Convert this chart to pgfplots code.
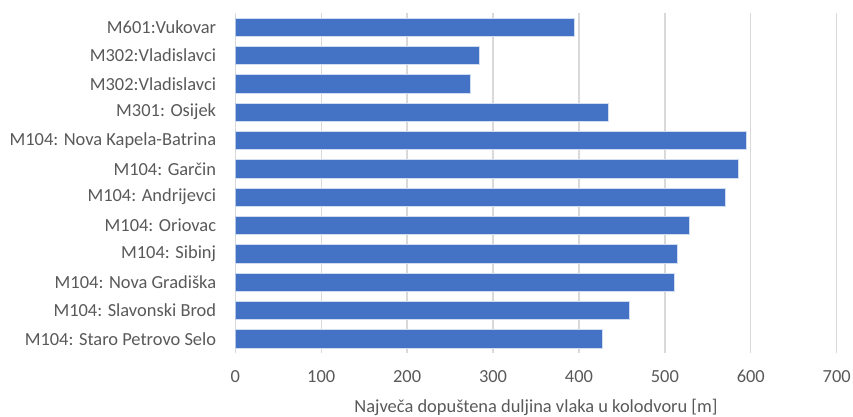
\documentclass[border=0pt]{standalone}
\usepackage{pgfplots}
\pgfplotsset{compat=1.18}
\usepackage{fontspec}
\setmainfont{Carlito}
\definecolor{barblue}{HTML}{4472C4}
\definecolor{gridgray}{HTML}{D9D9D9}
\definecolor{txtgray}{HTML}{595959}
\begin{document}
\begin{tikzpicture}[x=1bp,y=1bp]
\begin{axis}[
  at={(0,0)}, anchor=south west,
  scale only axis,
  width=601.4bp, height=340bp,
  xbar,
  bar width=18.3bp,
  xmin=0, xmax=700,
  ymin=-0.5, ymax=11.5,
  xtick={0,100,...,700},
  ytick={0,...,11},
  yticklabels={M104: Staro Petrovo Selo, M104: Slavonski Brod, M104: Nova Gradiška, M104: Sibinj, M104: Oriovac, M104: Andrijevci, M104: Garčin, M104: Nova Kapela-Batrina, M301: Osijek, M302:Vladislavci, M302:Vladislavci, M601:Vukovar},
  axis line style={draw=none},
  major tick length=0pt,
  xmajorgrids,
  grid style={gridgray, line width=1.3bp},
  /pgf/number format/assume math mode=true,
  xticklabel style={font=\fontsize{18.5}{21}\selectfont, text=txtgray, inner sep=0pt, yshift=-17bp},
  yticklabel style={font=\fontsize{18.5}{21}\selectfont, text=txtgray, inner sep=0pt, xshift=-19bp},
  xlabel={Največa dopuštena duljina vlaka u kolodvoru [m]},
  xlabel style={font=\fontsize{18.5}{21}\selectfont, text=txtgray, inner sep=0pt, yshift=-16bp},
]
\addplot[fill=barblue, draw=white!75!barblue, line width=0.6bp] coordinates {
(427,0) (459,1) (511,2) (514,3) (528,4) (570,5) (585,6) (595,7) (434,8) (274,9) (284,10) (395,11)
};
\end{axis}
\pgfresetboundingbox
\path[use as bounding box] (-235.3,-63) rectangle (617.7,353);
\end{tikzpicture}
\end{document}
